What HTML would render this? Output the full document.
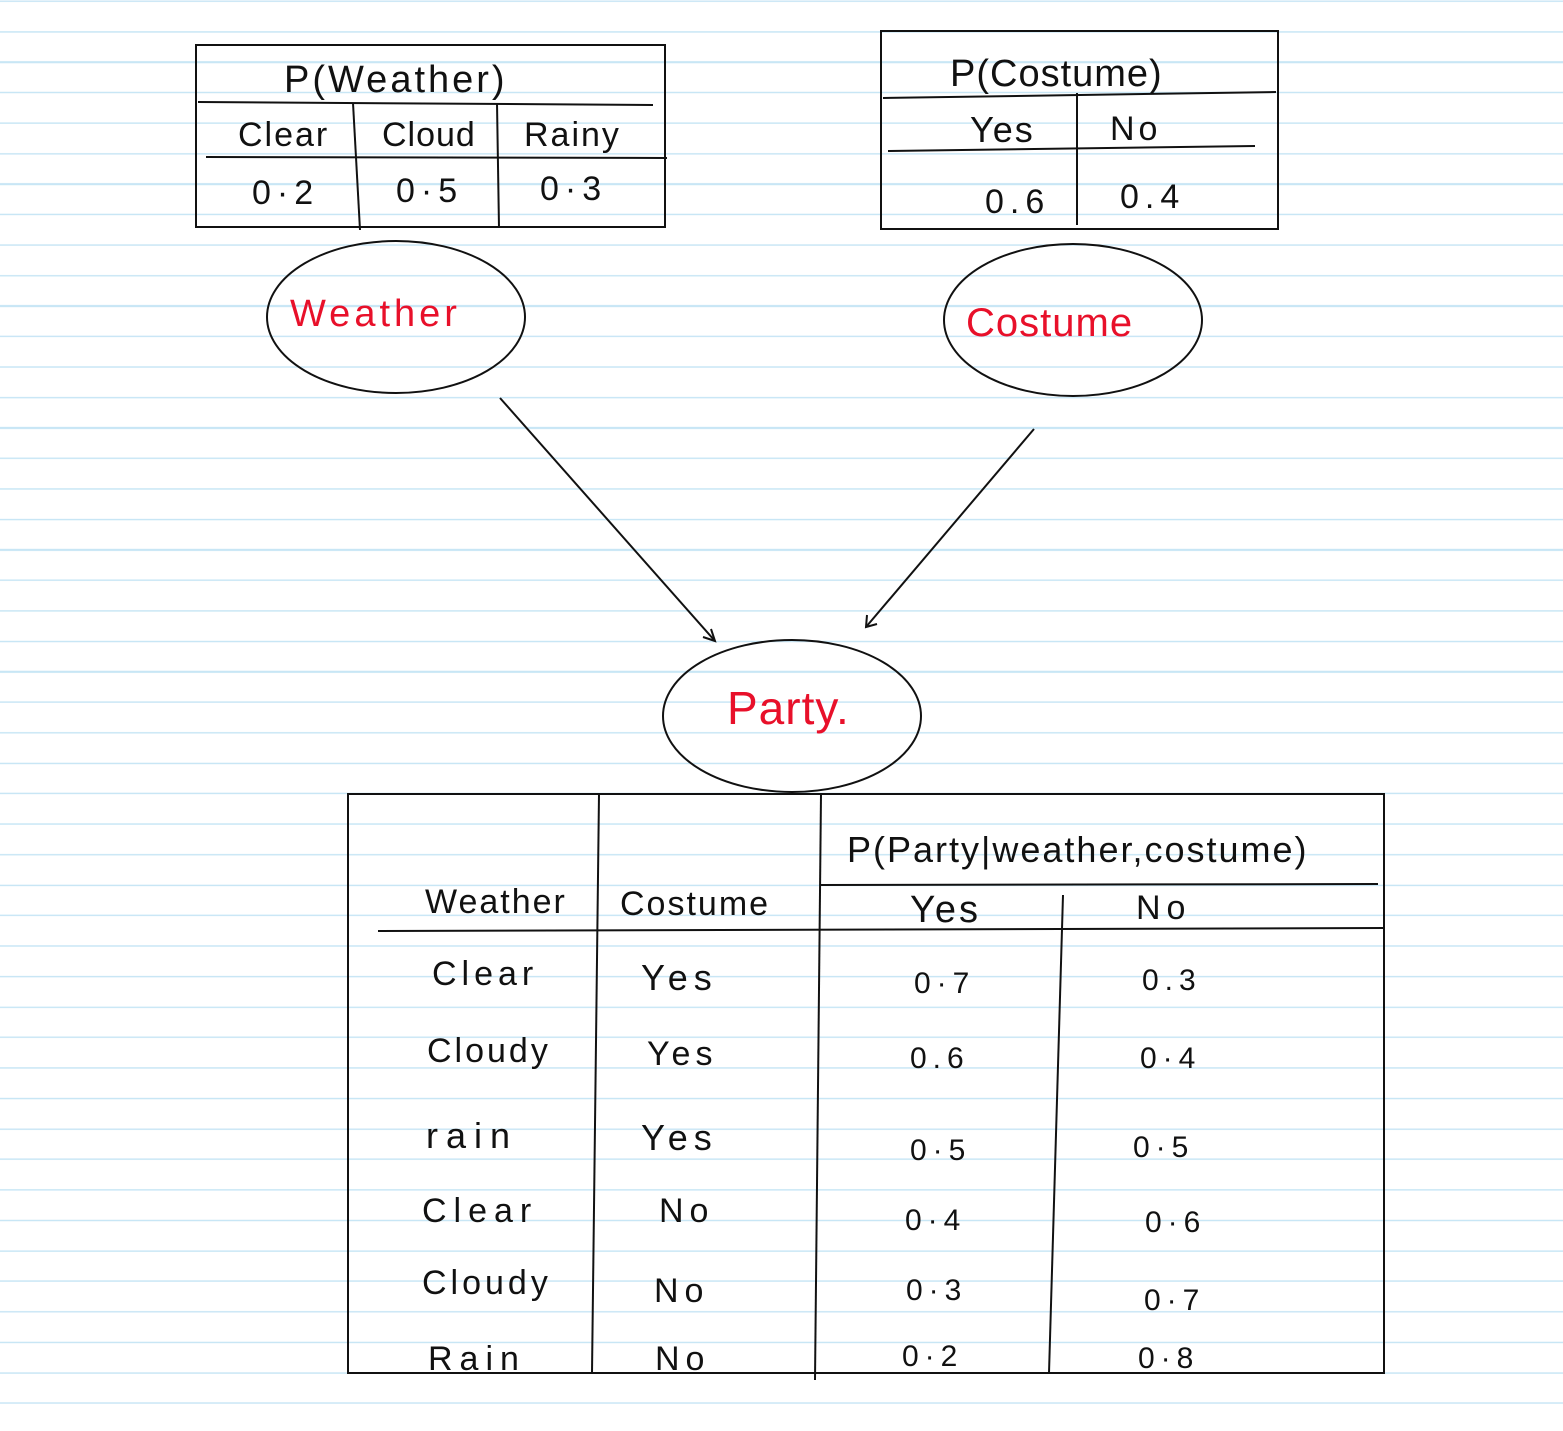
<!DOCTYPE html>
<html><head><meta charset="utf-8"><style>
html,body{margin:0;padding:0}
body{width:1563px;height:1431px;overflow:hidden;background:#fff;
background-image:repeating-linear-gradient(to bottom,#c8e6f5 0px,#c8e6f5 1.5px,transparent 1.5px,transparent 30.48px);background-position:0 0.5px}
svg{position:absolute;left:0;top:0}
text{font-family:"Liberation Sans",sans-serif;font-weight:normal}
.n{letter-spacing:6px}
</style></head><body>
<svg width="1563" height="1431" viewBox="0 0 1563 1431">
<g fill="none" stroke="#111" stroke-width="2">
<rect x="196" y="45" width="469" height="182"/>
<line x1="198" y1="102" x2="653" y2="105"/>
<line x1="206" y1="157" x2="667" y2="158"/>
<line x1="353" y1="103" x2="360" y2="230"/>
<line x1="497" y1="103" x2="499" y2="228"/>
<rect x="881" y="31" width="397" height="198"/>
<line x1="883" y1="98" x2="1276" y2="92"/>
<line x1="888" y1="151" x2="1255" y2="146"/>
<line x1="1077" y1="93" x2="1077" y2="225"/>
<ellipse cx="396" cy="317" rx="129" ry="76"/>
<ellipse cx="1073" cy="320" rx="129" ry="76"/>
<ellipse cx="792" cy="716" rx="129" ry="76"/>
<line x1="500" y1="398" x2="715" y2="641"/>
<polyline points="703,637 715,641 711,629"/>
<line x1="1034" y1="429" x2="866" y2="627"/>
<polyline points="867,615 866,627 877,624"/>
<rect x="348" y="794" width="1036" height="579"/>
<line x1="599" y1="794" x2="592" y2="1373"/>
<line x1="821" y1="794" x2="815" y2="1380"/>
<line x1="820" y1="885" x2="1378" y2="884"/>
<line x1="378" y1="931" x2="1384" y2="928"/>
<line x1="1063" y1="895" x2="1049" y2="1373"/>
</g>
<g fill="#111" font-size="36">
<text x="284" y="92" font-size="38" letter-spacing="3">P(Weather)</text>
<text x="238" y="146" font-size="34" letter-spacing="2">Clear</text>
<text x="382" y="146" font-size="34" letter-spacing="1">Cloud</text>
<text x="524" y="146" font-size="34" letter-spacing="2">Rainy</text>
<text x="252" y="204" font-size="34" class="n">0·2</text>
<text x="396" y="202" font-size="34" class="n">0·5</text>
<text x="540" y="200" font-size="34" class="n">0·3</text>
<text x="950" y="86" font-size="38" letter-spacing="1">P(Costume)</text>
<text x="970" y="142" font-size="36" letter-spacing="2">Yes</text>
<text x="1110" y="140" font-size="34" letter-spacing="4">No</text>
<text x="985" y="213" font-size="34" class="n">0.6</text>
<text x="1120" y="208" font-size="34" class="n">0.4</text>
<text x="847" y="862" font-size="36" letter-spacing="2">P(Party|weather,costume)</text>
<text x="425" y="913" font-size="34" letter-spacing="2">Weather</text>
<text x="620" y="915" font-size="34" letter-spacing="2">Costume</text>
<text x="910" y="922" font-size="38" letter-spacing="3">Yes</text>
<text x="1136" y="919" font-size="34" letter-spacing="6">No</text>
<text x="432" y="985" font-size="34" letter-spacing="5">Clear</text>
<text x="641" y="990" font-size="36" letter-spacing="6">Yes</text>
<text x="914" y="993" font-size="30" class="n">0·7</text>
<text x="1142" y="990" font-size="30" class="n">0.3</text>
<text x="427" y="1062" font-size="34" letter-spacing="3">Cloudy</text>
<text x="647" y="1065" font-size="34" letter-spacing="5">Yes</text>
<text x="910" y="1068" font-size="30" class="n">0.6</text>
<text x="1140" y="1068" font-size="30" class="n">0·4</text>
<text x="426" y="1148" font-size="36" letter-spacing="8">rain</text>
<text x="641" y="1150" font-size="36" letter-spacing="6">Yes</text>
<text x="910" y="1160" font-size="30" class="n">0·5</text>
<text x="1133" y="1157" font-size="30" class="n">0·5</text>
<text x="422" y="1222" font-size="34" letter-spacing="7">Clear</text>
<text x="659" y="1222" font-size="34" letter-spacing="6">No</text>
<text x="905" y="1230" font-size="30" class="n">0·4</text>
<text x="1145" y="1232" font-size="30" class="n">0·6</text>
<text x="422" y="1294" font-size="34" letter-spacing="4">Cloudy</text>
<text x="654" y="1302" font-size="34" letter-spacing="6">No</text>
<text x="906" y="1300" font-size="30" class="n">0·3</text>
<text x="1144" y="1310" font-size="30" class="n">0·7</text>
<text x="428" y="1370" font-size="34" letter-spacing="7">Rain</text>
<text x="655" y="1370" font-size="34" letter-spacing="6">No</text>
<text x="902" y="1366" font-size="30" class="n">0·2</text>
<text x="1138" y="1368" font-size="30" class="n">0·8</text>
</g>
<g fill="#e8102a">
<text x="290" y="326" font-size="38" letter-spacing="4">Weather</text>
<text x="966" y="336" font-size="40" letter-spacing="1">Costume</text>
<text x="727" y="724" font-size="46" letter-spacing="1">Party.</text>
</g>
</svg>
</body></html>
